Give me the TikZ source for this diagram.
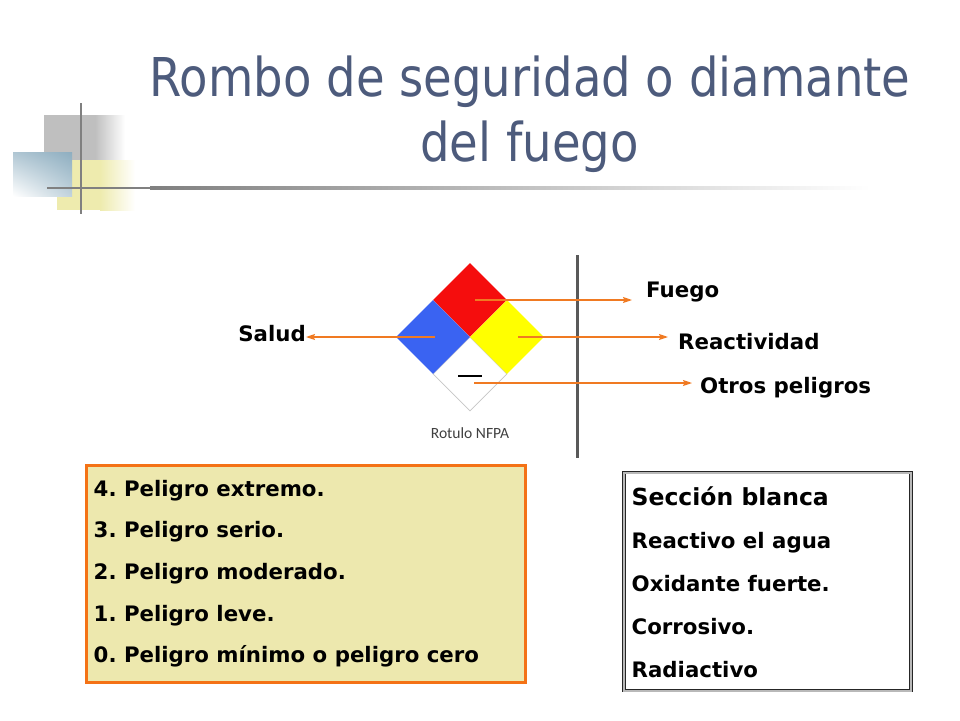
\documentclass[tikz,border=0pt]{standalone}
\usepackage{fontspec}
\setmainfont{DejaVu Sans}
\newfontfamily\titlefont[FakeStretch=0.87]{DejaVu Sans}
\newfontfamily\rotulofont{Carlito}
\usepackage{tikz}
\usetikzlibrary{shapes.geometric,arrows.meta,shadings}
\frenchspacing

\definecolor{tituloazul}{HTML}{4D5B7C}
\definecolor{naranja}{HTML}{F07A22}
\definecolor{cajaborde}{HTML}{F47216}
\definecolor{cajafondo}{HTML}{EDE8AE}
\definecolor{rojonfpa}{HTML}{F50D0D}
\definecolor{azulnfpa}{HTML}{3A63F2}
\definecolor{amarillonfpa}{HTML}{FFFF00}
\definecolor{amarillopalido}{HTML}{EEEBAE}
\definecolor{azulgris}{HTML}{8EAEC0}

\begin{document}
\begin{tikzpicture}[x=1pt, y=-1pt,
    titulo/.style={font=\titlefont\fontsize{53.5}{64}\selectfont, text=tituloazul, inner sep=0pt, anchor=base},
    cuadro/.style={diamond, aspect=1, inner sep=0pt, minimum width=74pt, minimum height=74pt},
    etiqueta/.style={font=\fontsize{21.3}{25}\selectfont\bfseries, inner sep=0pt},
    flecha/.style={draw=naranja, line width=1.3pt, -{Stealth[length=9pt, width=6pt, inset=1.5pt]}}]
    \useasboundingbox (0,0) rectangle (960,720);

    % draw corner squares
    \fill[gray!50] (44,115) rectangle (95,160);
    \shade[left color=gray!50, right color=white] (95,115) rectangle (125,160);
    \fill[amarillopalido] (57,160) rectangle (100,210);
    \shade[left color=amarillopalido, right color=white] (100,160) rectangle (135,210);
    \shade[upper left=azulgris!70, upper right=azulgris, lower left=white, lower right=azulgris!55] (13,152) rectangle (72,196);

    % draw corner lines
    \draw[gray, line width=2.5pt] (81,103) -- (81,214);
    \fill[gray] (47,186.8) rectangle (150,189.2);
    \shade[left color=gray, right color=white] (150,186.8) rectangle (870,189.2);

    % title
    \node[titulo] (titulo) at (530,96) {Rombo de seguridad o diamante};
    \node[titulo] (subtitulo) at (529.5,161) {del fuego};

    % draw diamond
    \node[cuadro, fill=white, draw=gray!45, line width=0.8pt] (blanco) at (470,374) {};
    \node[cuadro, fill=rojonfpa] (rojo) at (470,300) {};
    \node[cuadro, fill=azulnfpa] (azul) at (433,337) {};
    \node[cuadro, fill=amarillonfpa] (amarillo) at (507,337) {};
    \draw[line width=1.4pt] ([shift={(-12,2)}]blanco.center) -- ++(24,0);
    \node[font=\rotulofont\fontsize{15.6}{18}\selectfont, text=black!75, inner sep=0pt, anchor=base] (rotulo) at (470,438) {Rotulo NFPA};

    % draw vertical line
    \draw[black!65, line width=3pt] (577,255) -- (577,458);

    % labels
    \node[etiqueta, anchor=base west] (fuego) at (646,297) {Fuego};
    \node[etiqueta, anchor=base west] (reactividad) at (678,349.5) {Reactividad};
    \node[etiqueta, anchor=base west] (otros) at (700,393) {Otros peligros};
    \node[etiqueta, anchor=base east] (salud) at (306,341.7) {Salud};

    % draw arrows
    \coordinate (blancoP) at ([shift={(4,9)}]blanco.center);
    \draw[flecha, shorten >=14pt] ([xshift=5pt]rojo.center) -- (rojo.center -| fuego.west);
    \draw[flecha, shorten >=10pt] ([xshift=11pt]amarillo.center) -- (amarillo.center -| reactividad.west);
    \draw[flecha, shorten >=8pt] (blancoP) -- (blancoP -| otros.west);
    \draw[flecha] ([xshift=2pt]azul.center) -- (azul.center -| salud.east);

    % draw boxes
    \node[draw=cajaborde, line width=3pt, fill=cajafondo, minimum width=439pt, minimum height=217pt, inner sep=0pt] (niveles) at (306,574) {};
    \foreach \n/\texto [count=\i from 0] in {4/Peligro extremo.,3/Peligro serio.,2/Peligro moderado.,1/Peligro leve.,0/Peligro mínimo o peligro cero}
      \node[etiqueta, anchor=base west] (nivel\n) at (93.5,496+41.7*\i) {\n. \texto};

    \node[draw=black!85, double=gray!55, double distance=2pt, line width=0.8pt, minimum width=287pt, minimum height=218pt, inner sep=0pt] (seccion) at (767.5,581.5) {};
    \node[etiqueta, font=\fontsize{23.5}{28}\selectfont\bfseries, anchor=base west] (blanca) at (631.5,505) {Sección blanca};
    \foreach \texto [count=\i] in {Reactivo el agua,Oxidante fuerte.,Corrosivo.,Radiactivo}
      \node[etiqueta, anchor=base west] (riesgo\i) at (631.5,505+43*\i) {\texto};
\end{tikzpicture}
\end{document}
